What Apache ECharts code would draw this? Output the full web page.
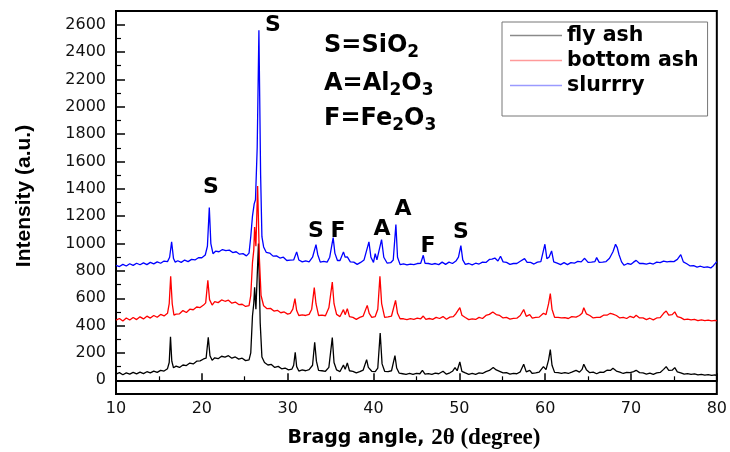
<!DOCTYPE html>
<html>
<head>
<meta charset="utf-8">
<script src="https://cdn.jsdelivr.net/npm/echarts@6/dist/echarts.min.js"></script>
<style>
html,body{margin:0;padding:0;background:#fff;}
#chart{width:730px;height:452px;}
</style>
</head>
<body>
<div id="chart"></div>
<script>
// ---- data (2θ angle, intensity) ----
var flyAsh = [
[10.0,45],[10.4,56],[10.8,41],[11.2,54],[11.6,45],[12.0,58],[12.4,47],[12.8,60],[13.2,49],[13.6,63],[14.0,54],[14.4,67],[14.8,58],[15.2,73],[15.6,68],[16.0,85],[16.2,130],[16.35,318],[16.5,140],[16.7,92],
[17.0,104],[17.4,94],[17.8,112],[18.2,108],[18.6,126],[19.0,120],[19.4,140],[19.8,142],[20.2,156],[20.5,162],[20.75,315],[20.95,180],[21.2,146],[21.5,165],[21.9,158],[22.3,176],[22.7,170],[23.1,180],[23.5,162],[23.9,171],
[24.3,155],[24.7,162],[25.1,144],[25.5,150],[25.7,200],[25.9,470],[26.05,560],[26.15,680],[26.3,520],[26.6,1000],[26.8,420],[27.0,170],[27.3,130],[27.7,112],[28.1,116],[28.5,94],[28.9,102],[29.3,84],[29.7,90],[30.1,76],
[30.5,82],[30.7,110],[30.88,205],[31.05,100],[31.3,68],[31.7,76],[32.1,70],[32.5,78],[32.9,110],[33.15,278],[33.35,140],[33.6,72],[34.0,70],[34.4,66],[34.8,95],[35.2,312],[35.4,130],[35.7,76],[36.1,64],[36.5,112],
[36.7,80],[36.95,127],[37.2,70],[37.6,66],[38.0,55],[38.4,63],[38.8,75],[39.2,151],[39.4,95],[39.8,66],[40.2,64],[40.5,90],[40.78,346],[41.0,120],[41.3,66],[41.7,64],[42.1,70],[42.5,180],[42.7,90],[43.0,52],
[43.4,48],[43.8,44],[44.2,50],[44.6,43],[45.0,51],[45.4,48],[45.7,73],[46.0,46],[46.4,49],[46.8,44],[47.2,53],[47.6,48],[48.1,66],[48.5,45],[48.9,55],[49.2,66],[49.5,93],[49.75,70],[50.06,134],[50.3,66],
[50.7,54],[51.1,44],[51.5,50],[51.9,44],[52.3,54],[52.7,50],[53.1,64],[53.5,72],[53.95,93],[54.3,76],[54.7,66],[55.1,54],[55.5,56],[55.9,46],[56.3,51],[56.7,48],[57.1,62],[57.5,117],[57.8,62],[58.2,73],
[58.5,50],[58.9,54],[59.3,60],[59.8,100],[60.1,78],[60.4,150],[60.6,224],[60.8,110],[61.1,58],[61.5,56],[61.9,50],[62.3,56],[62.7,50],[63.1,60],[63.6,73],[64.0,60],[64.3,80],[64.5,117],[64.8,78],[65.2,56],
[65.6,60],[66.0,48],[66.4,60],[66.8,58],[67.2,74],[67.6,72],[67.9,88],[68.3,68],[68.7,60],[69.1,50],[69.5,58],[69.9,56],[70.3,64],[70.6,73],[71.0,56],[71.4,54],[71.8,46],[72.2,53],[72.6,44],[73.0,54],
[73.4,58],[73.8,80],[74.1,100],[74.4,72],[74.8,74],[75.1,93],[75.4,62],[75.8,55],[76.2,45],[76.6,49],[77.0,44],[77.4,47],[77.8,40],[78.2,44],[78.6,38],[79.0,42],[79.4,36],[79.8,40],[80.0,34]
];
var bottomAsh = [
[10.0,440],[10.4,452],[10.8,434],[11.2,456],[11.6,441],[12.0,459],[12.4,444],[12.8,464],[13.2,449],[13.6,469],[14.0,455],[14.4,474],[14.8,461],[15.2,482],[15.6,471],[16.0,490],[16.2,560],[16.37,760],[16.55,560],[16.75,476],
[17.0,484],[17.4,486],[17.8,510],[18.2,496],[18.6,520],[19.0,516],[19.4,536],[19.8,532],[20.2,550],[20.45,566],[20.7,731],[20.9,590],[21.2,550],[21.5,575],[21.9,568],[22.3,588],[22.7,578],[23.1,586],[23.5,564],[23.9,572],
[24.3,554],[24.7,556],[25.1,540],[25.5,546],[25.7,620],[25.9,860],[26.05,950],[26.15,1120],[26.3,980],[26.5,1420],[26.7,900],[26.9,620],[27.2,545],[27.6,524],[28.0,526],[28.4,506],[28.8,512],[29.2,494],[29.6,500],[30.0,484],
[30.3,490],[30.6,520],[30.85,597],[31.05,510],[31.3,474],[31.7,478],[32.1,474],[32.5,482],[32.8,520],[33.1,678],[33.3,560],[33.6,474],[34.0,476],[34.4,472],[34.8,530],[35.2,719],[35.4,560],[35.7,482],[36.1,466],[36.5,517],
[36.7,480],[36.95,524],[37.2,466],[37.6,460],[38.0,446],[38.4,460],[38.8,470],[39.27,548],[39.5,490],[39.8,460],[40.2,466],[40.5,520],[40.75,760],[40.95,560],[41.3,460],[41.7,464],[42.1,470],[42.57,585],[42.8,490],[43.1,450],
[43.5,450],[43.9,444],[44.3,451],[44.7,446],[45.1,454],[45.5,450],[45.8,470],[46.1,446],[46.5,452],[46.9,446],[47.3,460],[47.7,452],[48.1,466],[48.5,446],[48.9,462],[49.3,466],[49.6,487],[49.8,475],[50.06,531],[50.3,476],
[50.7,459],[51.1,444],[51.5,450],[51.9,445],[52.3,460],[52.7,452],[53.1,474],[53.5,482],[53.9,500],[54.3,481],[54.7,474],[55.1,456],[55.5,460],[55.9,448],[56.3,453],[56.7,454],[57.1,474],[57.5,517],[57.8,468],[58.2,480],
[58.5,454],[58.9,460],[59.3,462],[59.8,490],[60.1,480],[60.4,560],[60.6,634],[60.8,520],[61.1,460],[61.5,460],[61.9,456],[62.3,458],[62.7,452],[63.1,466],[63.6,462],[64.0,474],[64.3,490],[64.5,531],[64.8,486],[65.2,474],
[65.6,456],[66.0,460],[66.4,460],[66.8,476],[67.2,476],[67.6,490],[67.9,484],[68.3,474],[68.7,456],[69.1,460],[69.5,452],[69.9,468],[70.3,458],[70.6,475],[71.0,456],[71.4,456],[71.8,444],[72.2,454],[72.6,442],[73.0,456],
[73.4,458],[73.8,490],[74.1,507],[74.4,476],[74.8,480],[75.1,500],[75.4,466],[75.8,458],[76.2,444],[76.6,448],[77.0,442],[77.4,446],[77.8,436],[78.2,442],[78.6,436],[79.0,440],[79.4,434],[79.8,438],[80.0,434]
];
var slurry = [
[10.0,841],[10.4,832],[10.8,848],[11.2,836],[11.6,852],[12.0,840],[12.4,856],[12.8,845],[13.2,859],[13.6,846],[14.0,862],[14.4,851],[14.8,866],[15.2,856],[15.6,872],[16.0,868],[16.25,900],[16.48,1012],[16.7,890],[16.9,864],
[17.2,874],[17.6,862],[18.0,879],[18.4,868],[18.8,884],[19.2,880],[19.6,896],[20.0,896],[20.4,916],[20.65,980],[20.87,1263],[21.05,1000],[21.3,926],[21.6,944],[22.0,940],[22.4,956],[22.8,948],[23.2,952],[23.6,934],[24.0,940],
[24.4,922],[24.8,926],[25.2,910],[25.5,930],[25.7,1050],[25.9,1200],[26.1,1290],[26.25,1320],[26.45,1700],[26.65,2560],[26.85,1500],[27.0,1050],[27.2,975],[27.5,936],[27.9,930],[28.3,908],[28.7,910],[29.1,894],[29.5,900],[29.9,876],
[30.3,878],[30.7,880],[31.05,939],[31.3,880],[31.7,866],[32.1,874],[32.5,866],[32.9,900],[33.3,992],[33.5,920],[33.8,864],[34.2,870],[34.6,864],[34.9,900],[35.3,1044],[35.5,930],[35.8,876],[36.1,876],[36.5,939],[36.7,900],
[36.95,902],[37.3,866],[37.7,864],[38.1,848],[38.5,862],[38.9,880],[39.47,1012],[39.7,900],[40.0,862],[40.2,926],[40.4,880],[40.94,1029],[41.2,900],[41.6,856],[42.0,860],[42.3,880],[42.61,1139],[42.8,900],[43.1,846],[43.5,852],
[43.9,844],[44.3,850],[44.7,846],[45.1,854],[45.5,856],[45.8,914],[46.0,856],[46.4,854],[46.8,848],[47.2,854],[47.6,846],[48.0,864],[48.4,848],[48.8,864],[49.2,854],[49.6,872],[49.9,900],[50.18,985],[50.4,880],[50.7,848],
[51.1,854],[51.5,844],[51.9,856],[52.3,850],[52.7,864],[53.1,862],[53.5,884],[53.8,886],[54.14,894],[54.5,872],[54.8,907],[55.1,866],[55.5,862],[55.9,848],[56.3,854],[56.7,854],[57.1,870],[57.6,890],[57.9,862],[58.3,862],
[58.7,850],[59.1,864],[59.5,868],[59.97,995],[60.2,890],[60.45,900],[60.75,946],[61.0,866],[61.4,857],[61.8,846],[62.2,860],[62.6,846],[63.0,860],[63.4,856],[63.8,870],[64.2,866],[64.6,892],[65.0,862],[65.4,864],[65.8,868],
[66.0,897],[66.3,862],[66.7,864],[67.1,868],[67.5,892],[67.9,940],[68.2,995],[68.4,970],[68.6,920],[68.9,866],[69.2,841],[69.6,854],[70.0,848],[70.3,864],[70.6,877],[71.0,854],[71.4,854],[71.8,850],[72.2,856],[72.6,850],
[73.0,864],[73.4,860],[73.8,872],[74.2,866],[74.6,870],[75.0,868],[75.4,884],[75.8,919],[76.1,866],[76.5,852],[76.9,836],[77.3,838],[77.7,828],[78.1,834],[78.5,825],[78.9,830],[79.3,822],[79.6,838],[80.0,868]
];
var seriesNames = ['fly ash', 'bottom ash', 'slurrry'];
var xMajorTicks = [10, 20, 30, 40, 50, 60, 70, 80];
var xMinorTicks = [15, 25, 35, 45, 55, 65, 75];
var yMajorTicks = [0, 200, 400, 600, 800, 1000, 1200, 1400, 1600, 1800, 2000, 2200, 2400, 2600];
var yMinorTicks = [100, 300, 500, 700, 900, 1100, 1300, 1500, 1700, 1900, 2100, 2300, 2500];
var peakLabels = [
  {t:'S', x:273, y:25}, {t:'S', x:211, y:187}, {t:'S', x:316, y:231}, {t:'F', x:338, y:231},
  {t:'A', x:382, y:229}, {t:'A', x:403, y:209}, {t:'F', x:428, y:246}, {t:'S', x:461, y:232}
];

var chart = echarts.init(document.getElementById('chart'));
var tickFont = {fontFamily:'DejaVu Sans', fontSize:16, color:'#111'};
var boldSans = 'DejaVu Sans';

var graphics = [];
peakLabels.forEach(function(p){
  graphics.push({type:'text', x:p.x, y:p.y, style:{text:p.t, fontFamily:boldSans, fontWeight:'bold', fontSize:22, fill:'#000', textAlign:'center', textVerticalAlign:'middle'}});
});
function formula(y, parts){
  return {type:'text', left:324, top:y, style:{
    text: parts,
    fontFamily:boldSans, fontWeight:'bold', fontSize:24, fill:'#000',
    rich:{
      m:{fontFamily:boldSans, fontWeight:'bold', fontSize:24, lineHeight:28, fill:'#000'},
      s:{fontFamily:boldSans, fontWeight:'bold', fontSize:17, lineHeight:28, padding:[14,0,0,0], fill:'#000'}
    }
  }};
}
graphics.push(formula(30, '{m|S=SiO}{s|2}'));
graphics.push(formula(68, '{m|A=Al}{s|2}{m|O}{s|3}'));
graphics.push(formula(103, '{m|F=Fe}{s|2}{m|O}{s|3}'));
graphics.push({type:'text', x:24, y:196, rotation:Math.PI/2, style:{text:'Intensity (a.u.)', fontFamily:'Liberation Sans', fontWeight:'bold', fontSize:21, fill:'#000', textAlign:'center', textVerticalAlign:'middle'}});
graphics.push({type:'text', x:414, y:438, style:{
  text:'{a|Bragg angle, }{b|2θ (degree)}', textAlign:'center', textVerticalAlign:'middle',
  rich:{
    a:{fontFamily:boldSans, fontWeight:'bold', fontSize:19, fill:'#000'},
    b:{fontFamily:'Liberation Serif', fontWeight:'bold', fontSize:23, fill:'#000'}
  }}});

var colors = ['#000000', '#ff0000', '#0000ff'];
var legendColors = ['#8a8a8a', '#ff9a9a', '#9a9aff'];
var datasets = [flyAsh, bottomAsh, slurry];

chart.setOption({
  animation:false,
  backgroundColor:'#fff',
  grid:{left:116, right:13, top:11, bottom:58, show:true, borderColor:'#000', borderWidth:2, backgroundColor:'transparent'},
  legend:{
    left:502, top:22, orient:'vertical',
    borderColor:'#777', borderWidth:1, backgroundColor:'#fff',
    padding:[3, 9, 20, 8],
    icon:'rect',
    itemWidth:52, itemHeight:1.5, itemGap:4,
    textStyle:{fontFamily:boldSans, fontWeight:'bold', fontSize:20.5, color:'#000', lineHeight:20},
    data: seriesNames.map(function(n, i){ return {name:n, itemStyle:{color:legendColors[i]}}; })
  },
  xAxis:[{
    type:'value', min:10, max:80, position:'bottom',
    axisLine:{show:true, lineStyle:{color:'#000', width:2}},
    axisTick:{show:true, inside:true, length:7, lineStyle:{color:'#000', width:1.5}, customValues:xMajorTicks},
    axisLabel:{margin:7, customValues:xMajorTicks, formatter:function(v){return String(v);}, fontFamily:tickFont.fontFamily, fontSize:tickFont.fontSize, color:tickFont.color},
    splitLine:{show:false}
  },{
    type:'value', min:10, max:80, position:'bottom',
    axisLine:{show:false},
    axisTick:{show:true, inside:true, length:4, lineStyle:{color:'#000', width:1.2}, customValues:xMinorTicks},
    axisLabel:{show:false}, splitLine:{show:false}
  }],
  yAxis:[{
    type:'value', min:-100, max:2700, position:'left',
    axisLine:{show:true, lineStyle:{color:'#000', width:2}},
    axisTick:{show:true, inside:true, length:9, lineStyle:{color:'#000', width:1.5}, customValues:yMajorTicks},
    axisLabel:{margin:10, customValues:yMajorTicks, formatter:function(v){return String(v);}, fontFamily:tickFont.fontFamily, fontSize:tickFont.fontSize, color:tickFont.color},
    splitLine:{show:false}
  },{
    type:'value', min:-100, max:2700, position:'left',
    axisLine:{show:false},
    axisTick:{show:true, inside:true, length:5, lineStyle:{color:'#000', width:1.2}, customValues:yMinorTicks},
    axisLabel:{show:false}, splitLine:{show:false}
  }],
  series: datasets.map(function(d, i){
    return {
      name:seriesNames[i], type:'line', data:d, xAxisIndex:0, yAxisIndex:0,
      symbol:'none', showSymbol:false, smooth:false,
      lineStyle:{color:colors[i], width:1.3}, itemStyle:{color:colors[i]},
      z: 2 + i
    };
  }),
  graphic: graphics
});
</script>
</body>
</html>
